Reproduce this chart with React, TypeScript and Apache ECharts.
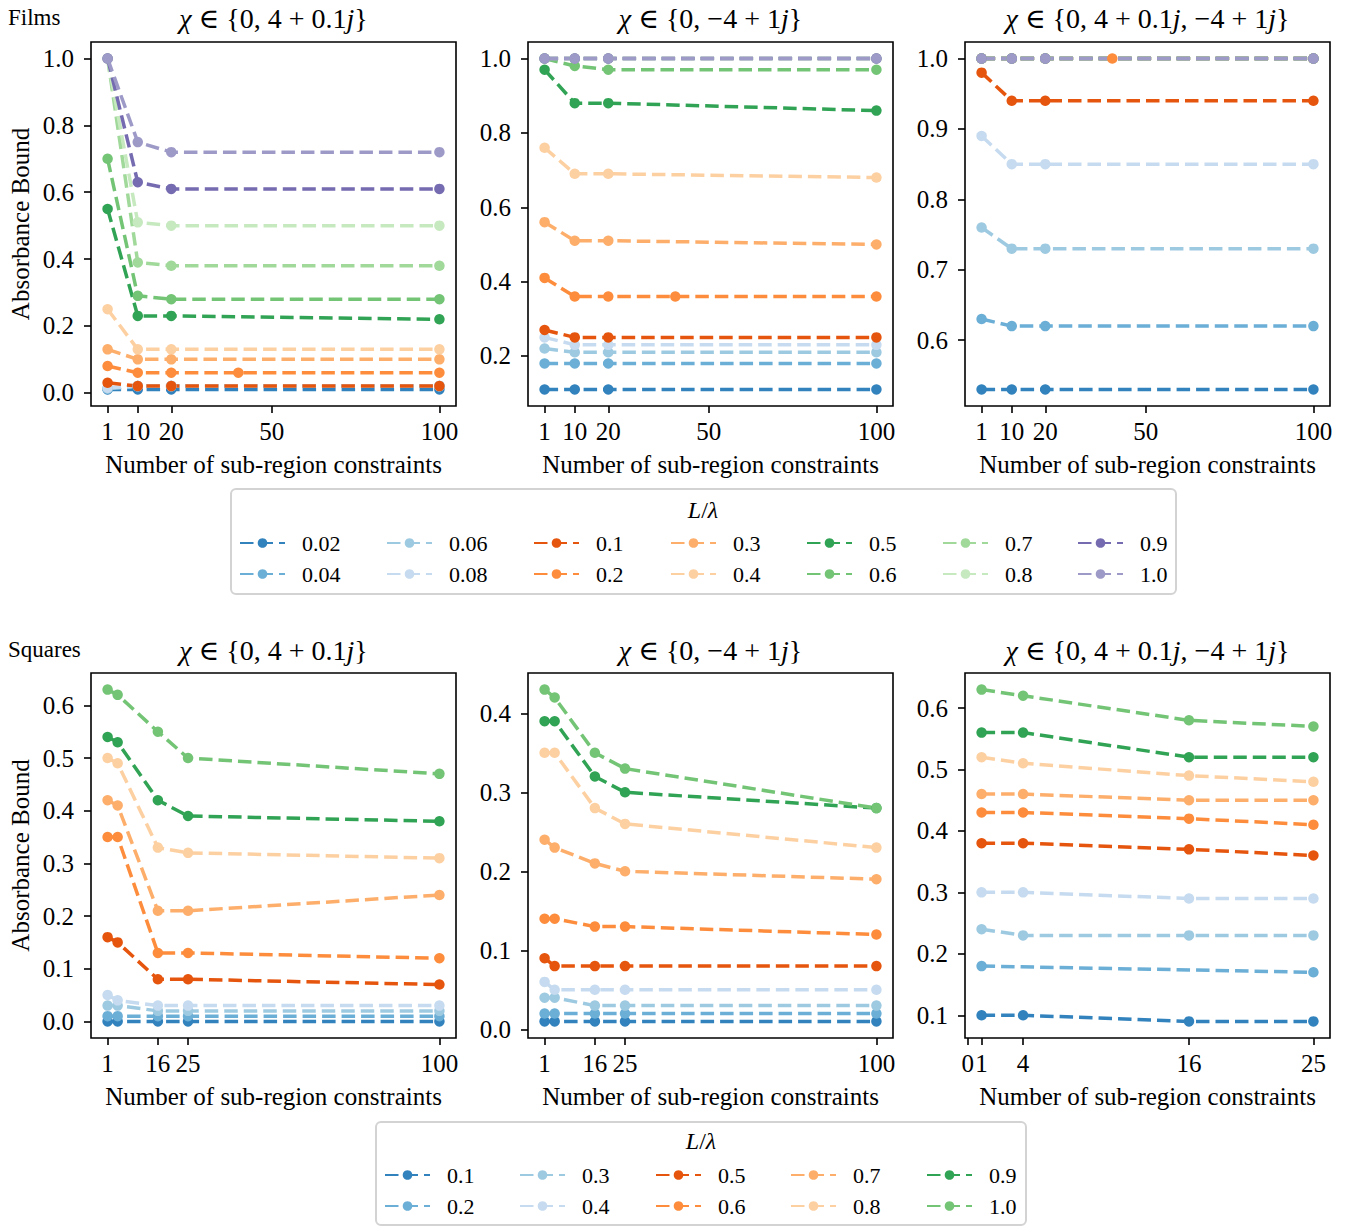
import React, { useEffect, useRef } from 'react';
import * as echarts from 'echarts';

const FONT = '"Liberation Serif", "DejaVu Serif", serif';

// ---------- legend names & colours ----------
const FILM_NAMES = ['0.02', '0.04', '0.06', '0.08', '0.1', '0.2', '0.3', '0.4', '0.5', '0.6', '0.7', '0.8', '0.9', '1.0'];
const FILM_COLORS = ['#3182bd', '#6baed6', '#9ecae1', '#c6dbef', '#e6550d', '#fd8d3c', '#fdae6b', '#fdd0a2', '#31a354', '#74c476', '#a1d99b', '#c7e9c0', '#756bb1', '#9e9ac8'];
const SQUARE_NAMES = ['0.1', '0.2', '0.3', '0.4', '0.5', '0.6', '0.7', '0.8', '0.9', '1.0'];
const SQUARE_COLORS = ['#3182bd', '#6baed6', '#9ecae1', '#c6dbef', '#e6550d', '#fd8d3c', '#fdae6b', '#fdd0a2', '#31a354', '#74c476'];

// ---------- x values & ticks ----------
const FILM_X = [1, 10, 20, 100];
const FILM_X_WITH_40 = [1, 10, 20, 40, 100]; // used by L/λ = 0.2
const FILM_X_TICKS = [1, 10, 20, 50, 100];
const SQUARE_X = [1, 4, 16, 25, 100];
const SQUARE_X_TICKS = [1, 16, 25, 100];
const SQUARE_C_X = [1, 4, 16, 25];
const SQUARE_C_X_TICKS = [0, 1, 4, 16, 25];

// ---------- y ticks ----------
const FILM_A_Y_TICKS = [0, 0.2, 0.4, 0.6, 0.8, 1.0];
const FILM_B_Y_TICKS = [0.2, 0.4, 0.6, 0.8, 1.0];
const FILM_C_Y_TICKS = [0.6, 0.7, 0.8, 0.9, 1.0];
const SQUARE_A_Y_TICKS = [0, 0.1, 0.2, 0.3, 0.4, 0.5, 0.6];
const SQUARE_B_Y_TICKS = [0, 0.1, 0.2, 0.3, 0.4];
const SQUARE_C_Y_TICKS = [0.1, 0.2, 0.3, 0.4, 0.5, 0.6];

// ---------- Films, χ ∈ {0, 4 + 0.1j} ----------
const FILM_A = [
  [0.01, 0.01, 0.01, 0.01],
  [0.012, 0.02, 0.02, 0.02],
  [0.013, 0.02, 0.02, 0.02],
  [0.015, 0.02, 0.02, 0.02],
  [0.03, 0.02, 0.02, 0.02],
  [0.08, 0.06, 0.06, 0.06, 0.06],
  [0.13, 0.10, 0.10, 0.10],
  [0.25, 0.13, 0.13, 0.13],
  [0.55, 0.23, 0.23, 0.22],
  [0.70, 0.29, 0.28, 0.28],
  [1.0, 0.39, 0.38, 0.38],
  [1.0, 0.51, 0.50, 0.50],
  [1.0, 0.63, 0.61, 0.61],
  [1.0, 0.75, 0.72, 0.72],
];

// ---------- Films, χ ∈ {0, −4 + 1j} ----------
const FILM_B = [
  [0.11, 0.11, 0.11, 0.11],
  [0.18, 0.18, 0.18, 0.18],
  [0.22, 0.21, 0.21, 0.21],
  [0.25, 0.23, 0.23, 0.23],
  [0.27, 0.25, 0.25, 0.25],
  [0.41, 0.36, 0.36, 0.36, 0.36],
  [0.56, 0.51, 0.51, 0.50],
  [0.76, 0.69, 0.69, 0.68],
  [0.97, 0.88, 0.88, 0.86],
  [1.0, 0.98, 0.97, 0.97],
  [1.0, 1.0, 1.0, 1.0],
  [1.0, 1.0, 1.0, 1.0],
  [1.0, 1.0, 1.0, 1.0],
  [1.0, 1.0, 1.0, 1.0],
];

// ---------- Films, χ ∈ {0, 4 + 0.1j, −4 + 1j} ----------
const FILM_C = [
  [0.53, 0.53, 0.53, 0.53],
  [0.63, 0.62, 0.62, 0.62],
  [0.76, 0.73, 0.73, 0.73],
  [0.89, 0.85, 0.85, 0.85],
  [0.98, 0.94, 0.94, 0.94],
  [1.0, 1.0, 1.0, 1.0, 1.0],
  [1.0, 1.0, 1.0, 1.0],
  [1.0, 1.0, 1.0, 1.0],
  [1.0, 1.0, 1.0, 1.0],
  [1.0, 1.0, 1.0, 1.0],
  [1.0, 1.0, 1.0, 1.0],
  [1.0, 1.0, 1.0, 1.0],
  [1.0, 1.0, 1.0, 1.0],
  [1.0, 1.0, 1.0, 1.0],
];

// ---------- Squares, χ ∈ {0, 4 + 0.1j} ----------
const SQUARE_A = [
  [0.0, 0.0, 0.0, 0.0, 0.0],
  [0.01, 0.01, 0.01, 0.01, 0.01],
  [0.03, 0.03, 0.02, 0.02, 0.02],
  [0.05, 0.04, 0.03, 0.03, 0.03],
  [0.16, 0.15, 0.08, 0.08, 0.07],
  [0.35, 0.35, 0.13, 0.13, 0.12],
  [0.42, 0.41, 0.21, 0.21, 0.24],
  [0.50, 0.49, 0.33, 0.32, 0.31],
  [0.54, 0.53, 0.42, 0.39, 0.38],
  [0.63, 0.62, 0.55, 0.50, 0.47],
];

// ---------- Squares, χ ∈ {0, −4 + 1j} ----------
const SQUARE_B = [
  [0.01, 0.01, 0.01, 0.01, 0.01],
  [0.02, 0.02, 0.02, 0.02, 0.02],
  [0.04, 0.04, 0.03, 0.03, 0.03],
  [0.06, 0.05, 0.05, 0.05, 0.05],
  [0.09, 0.08, 0.08, 0.08, 0.08],
  [0.14, 0.14, 0.13, 0.13, 0.12],
  [0.24, 0.23, 0.21, 0.20, 0.19],
  [0.35, 0.35, 0.28, 0.26, 0.23],
  [0.39, 0.39, 0.32, 0.30, 0.28],
  [0.43, 0.42, 0.35, 0.33, 0.28],
];

// ---------- Squares, χ ∈ {0, 4 + 0.1j, −4 + 1j} ----------
const SQUARE_C = [
  [0.10, 0.10, 0.09, 0.09],
  [0.18, null, null, 0.17],
  [0.24, 0.23, 0.23, 0.23],
  [0.30, 0.30, 0.29, 0.29],
  [0.38, 0.38, 0.37, 0.36],
  [0.43, 0.43, 0.42, 0.41],
  [0.46, 0.46, 0.45, 0.45],
  [0.52, 0.51, 0.49, 0.48],
  [0.56, 0.56, 0.52, 0.52],
  [0.63, 0.62, 0.58, 0.57],
];

const TITLES = [
  '{i|χ} ∈ {0, 4 + 0.1{i|j}}',
  '{i|χ} ∈ {0, −4 + 1{i|j}}',
  '{i|χ} ∈ {0, 4 + 0.1{i|j}, −4 + 1{i|j}}',
];

// ---------- layout ----------
const PANEL_LEFT = [91, 528, 965];
const PANEL_W = 365;
const ROW_TOP = [42, 673];
const ROW_H = [364, 365];

const FILM_LEGEND_COLS = [239, 386, 533, 670, 806, 942, 1077];
const FILM_LEGEND_ROWS = [543, 574];
const SQUARE_LEGEND_COLS = [384, 519, 655, 790, 926];
const SQUARE_LEGEND_ROWS = [1175, 1206];

function padRange(vals: number[]) {
  const mn = Math.min(...vals);
  const mx = Math.max(...vals);
  const d = (mx - mn) * 0.05;
  return [mn - d, mx + d];
}

export default function App() {
  const ref = useRef<HTMLDivElement>(null);

  useEffect(() => {
    if (!ref.current) return;
    const chart = echarts.init(ref.current, null, { renderer: 'svg' });

    const panels = [
      { rows: FILM_A, names: FILM_NAMES, colors: FILM_COLORS, xTicks: FILM_X_TICKS, yTicks: FILM_A_Y_TICKS, film: true, xs: FILM_X },
      { rows: FILM_B, names: FILM_NAMES, colors: FILM_COLORS, xTicks: FILM_X_TICKS, yTicks: FILM_B_Y_TICKS, film: true, xs: FILM_X },
      { rows: FILM_C, names: FILM_NAMES, colors: FILM_COLORS, xTicks: FILM_X_TICKS, yTicks: FILM_C_Y_TICKS, film: true, xs: FILM_X },
      { rows: SQUARE_A, names: SQUARE_NAMES, colors: SQUARE_COLORS, xTicks: SQUARE_X_TICKS, yTicks: SQUARE_A_Y_TICKS, film: false, xs: SQUARE_X },
      { rows: SQUARE_B, names: SQUARE_NAMES, colors: SQUARE_COLORS, xTicks: SQUARE_X_TICKS, yTicks: SQUARE_B_Y_TICKS, film: false, xs: SQUARE_X },
      { rows: SQUARE_C, names: SQUARE_NAMES, colors: SQUARE_COLORS, xTicks: SQUARE_C_X_TICKS, yTicks: SQUARE_C_Y_TICKS, film: false, xs: SQUARE_C_X },
    ];

    const grids: any[] = [];
    const xAxes: any[] = [];
    const yAxes: any[] = [];
    const series: any[] = [];
    const graphics: any[] = [];

    panels.forEach((p, idx) => {
      const col = idx % 3;
      const row = Math.floor(idx / 3);
      grids.push({
        left: PANEL_LEFT[col],
        top: ROW_TOP[row],
        width: PANEL_W,
        height: ROW_H[row],
        show: true,
        borderColor: '#000',
        borderWidth: 1.6,
        backgroundColor: 'transparent',
        containLabel: false,
      });

      const allX: number[] = [];
      const allY: number[] = [];
      p.rows.forEach((ys: any[], si: number) => {
        const xs = ys.length === 5 && p.film ? FILM_X_WITH_40 : p.xs;
        const pts: any[] = [];
        ys.forEach((y, k) => {
          if (y !== null && y !== undefined) {
            pts.push([xs[k], y]);
            allX.push(xs[k]);
            allY.push(y);
          }
        });
        const color = p.colors[si];
        series.push({
          type: 'line',
          name: (p.film ? '' : 'S ') + p.names[si],
          xAxisIndex: idx,
          yAxisIndex: idx,
          data: pts,
          symbol: 'circle',
          symbolSize: 10.5,
          showSymbol: true,
          showAllSymbol: true,
          clip: false,
          lineStyle: { color, width: 3.5, type: [13.5, 6] },
          itemStyle: { color },
          emphasis: { disabled: true },
          z: 3,
        });
      });

      const [xmin, xmax] = padRange(allX);
      const [ymin, ymax] = padRange(allY);

      xAxes.push({
        type: 'value',
        gridIndex: idx,
        min: xmin,
        max: xmax,
        axisLine: { show: false, onZero: false },
        splitLine: { show: false },
        axisTick: {
          show: true,
          inside: false,
          length: 7,
          customValues: p.xTicks,
          lineStyle: { color: '#000', width: 1.6 },
        },
        axisLabel: {
          show: true,
          customValues: p.xTicks,
          margin: 13,
          fontSize: 25,
          fontFamily: FONT,
          color: '#000',
          formatter: (v: number) => String(Math.round(v)),
        },
      });
      yAxes.push({
        type: 'value',
        gridIndex: idx,
        min: ymin,
        max: ymax,
        axisLine: { show: false, onZero: false },
        splitLine: { show: false },
        axisTick: {
          show: true,
          inside: false,
          length: 7,
          customValues: p.yTicks,
          lineStyle: { color: '#000', width: 1.6 },
        },
        axisLabel: {
          show: true,
          customValues: p.yTicks,
          margin: 17,
          fontSize: 25,
          fontFamily: FONT,
          color: '#000',
          formatter: (v: number) => v.toFixed(1),
        },
      });

      // titles
      graphics.push({
        type: 'text',
        x: PANEL_LEFT[col] + PANEL_W / 2,
        y: row === 0 ? 18 : 650,
        style: {
          text: TITLES[col],
          align: 'center',
          verticalAlign: 'middle',
          fontSize: 28,
          fontFamily: FONT,
          fill: '#000',
          rich: { i: { fontStyle: 'italic', fontSize: 28, fontFamily: FONT, fill: '#000' } },
        },
      });
      // x axis name
      graphics.push({
        type: 'text',
        x: PANEL_LEFT[col] + PANEL_W / 2,
        y: row === 0 ? 464 : 1096,
        style: {
          text: 'Number of sub-region constraints',
          align: 'center',
          verticalAlign: 'middle',
          fontSize: 25,
          fontFamily: FONT,
          fill: '#000',
        },
      });
      if (col === 0) {
        graphics.push({
          type: 'text',
          x: 20,
          y: ROW_TOP[row] + ROW_H[row] / 2,
          rotation: Math.PI / 2,
          style: {
            text: 'Absorbance Bound',
            align: 'center',
            verticalAlign: 'middle',
            fontSize: 25,
            fontFamily: FONT,
            fill: '#000',
          },
        });
      }
    });

    // row labels
    graphics.push({
      type: 'text', x: 8, y: 17,
      style: { text: 'Films', align: 'left', verticalAlign: 'middle', fontSize: 23, fontFamily: FONT, fill: '#000' },
    });
    graphics.push({
      type: 'text', x: 8, y: 649,
      style: { text: 'Squares', align: 'left', verticalAlign: 'middle', fontSize: 23, fontFamily: FONT, fill: '#000' },
    });

    // legend frames
    graphics.push({
      type: 'rect', z: 1,
      shape: { x: 231, y: 489, width: 945, height: 105, r: 5 },
      style: { fill: '#fff', stroke: '#d3d3d3', lineWidth: 2 },
    });
    graphics.push({
      type: 'rect', z: 1,
      shape: { x: 376, y: 1122, width: 650, height: 103, r: 5 },
      style: { fill: '#fff', stroke: '#d3d3d3', lineWidth: 2 },
    });
    const legendTitle = (x: number, y: number) => ({
      type: 'text', x, y, z: 2,
      style: {
        text: '{i|L}/{i|λ}',
        align: 'center',
        verticalAlign: 'middle',
        fontSize: 24,
        fontFamily: FONT,
        fill: '#000',
        rich: { i: { fontStyle: 'italic', fontSize: 24, fontFamily: FONT, fill: '#000' } },
      },
    });
    graphics.push(legendTitle(703, 510));
    graphics.push(legendTitle(701, 1141));

    // legends (column-major like the reference)
    const legends: any[] = [];
    const makeLegend = (seriesName: string, label: string, x: number, y: number) => ({
      show: true,
      data: [seriesName],
      left: x,
      top: y - 11,
      orient: 'horizontal',
      itemWidth: 45,
      itemHeight: 12,
      itemGap: 0,
      padding: 0,
      selectedMode: false,
      formatter: () => label,
      textStyle: {
        fontSize: 22,
        fontFamily: FONT,
        color: '#000',
        padding: [0, 0, 0, 12],
      },
      z: 5,
    });
    FILM_NAMES.forEach((n, i) => {
      const c = Math.floor(i / 2);
      const r = i % 2;
      legends.push(makeLegend(n, n, FILM_LEGEND_COLS[c], FILM_LEGEND_ROWS[r]));
    });
    SQUARE_NAMES.forEach((n, i) => {
      const c = Math.floor(i / 2);
      const r = i % 2;
      legends.push(makeLegend('S ' + n, n, SQUARE_LEGEND_COLS[c], SQUARE_LEGEND_ROWS[r]));
    });

    chart.setOption({
      animation: false,
      backgroundColor: '#fff',
      textStyle: { fontFamily: FONT },
      grid: grids,
      xAxis: xAxes,
      yAxis: yAxes,
      series,
      legend: legends,
      graphic: { elements: graphics },
    });

    return () => chart.dispose();
  }, []);

  return (
    <div
      ref={ref}
      style={{ position: 'fixed', left: 0, top: 0, width: 1354, height: 1226, background: '#fff' }}
    />
  );
}
